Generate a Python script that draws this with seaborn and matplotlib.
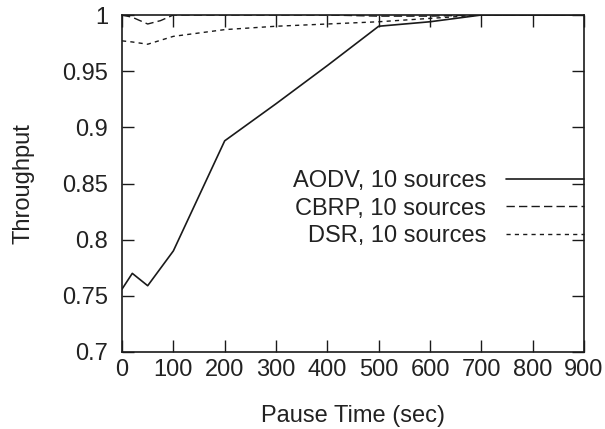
import matplotlib
matplotlib.use("Agg")
import matplotlib.pyplot as plt
import seaborn as sns
import pandas as pd

# Data
pause_aodv = [0, 20, 50, 100, 200, 300, 400, 500, 600, 700, 800, 900]
thr_aodv = [0.756, 0.770, 0.759, 0.790, 0.888, 0.921, 0.955, 0.990, 0.994, 1.0, 1.0, 1.0]

pause_cbrp = [0, 20, 50, 75, 100, 200, 300, 400, 500, 600, 700, 800, 900]
thr_cbrp = [1.0, 0.998, 0.992, 0.995, 1.0, 1.0, 1.0, 1.0, 0.999, 0.999, 1.0, 1.0, 1.0]

pause_dsr = [0, 20, 50, 100, 200, 300, 400, 500, 600, 700, 800, 900]
thr_dsr = [0.977, 0.976, 0.974, 0.981, 0.987, 0.990, 0.992, 0.994, 0.997, 1.0, 1.0, 1.0]

labels = ["AODV, 10 sources", "CBRP, 10 sources", "DSR, 10 sources"]
x_ticks = [0, 100, 200, 300, 400, 500, 600, 700, 800, 900]
y_ticks = [0.7, 0.75, 0.8, 0.85, 0.9, 0.95, 1.0]
y_tick_labels = ["0.7", "0.75", "0.8", "0.85", "0.9", "0.95", "1"]

sns.set_style("ticks")
plt.rcParams["font.family"] = ["Liberation Sans", "DejaVu Sans"]

fig = plt.figure(figsize=(6.05, 4.29), dpi=100)
ax = fig.add_axes([0.2017, 0.1795, 0.9653 - 0.2017, 0.965 - 0.1795])

ink = "#1a1a1a"
df_a = pd.DataFrame({"x": pause_aodv, "y": thr_aodv})
df_c = pd.DataFrame({"x": pause_cbrp, "y": thr_cbrp})
df_d = pd.DataFrame({"x": pause_dsr, "y": thr_dsr})

sns.lineplot(data=df_a, x="x", y="y", ax=ax, color=ink, lw=1.2, label=labels[0])
sns.lineplot(data=df_c, x="x", y="y", ax=ax, color=ink, lw=1.0, label=labels[1])
ax.lines[-1].set_dashes((6, 3))
sns.lineplot(data=df_d, x="x", y="y", ax=ax, color=ink, lw=1.0, label=labels[2])
ax.lines[-1].set_dashes((3, 3))

ax.set_xlim(0, 900)
ax.set_ylim(0.7, 1.0)
ax.set_xticks(x_ticks)
ax.set_yticks(y_ticks)
ax.set_yticklabels(y_tick_labels)

for s in ax.spines.values():
    s.set_visible(True)
    s.set_color(ink)
    s.set_linewidth(1.2)

ax.tick_params(axis="both", direction="in", length=8.5, width=1.0, color=ink,
               top=True, right=True, labelsize=17, labelcolor="#222222")
ax.tick_params(axis="y", pad=10)
ax.tick_params(axis="x", pad=5)

ax.set_xlabel("Pause Time (sec)", fontsize=17, color="#222222", labelpad=17)
ax.set_ylabel("Throughput", fontsize=17, color="#222222", labelpad=20)

leg = ax.legend(loc="upper right", bbox_to_anchor=(1.0, 0.54), frameon=False,
                markerfirst=False, fontsize=17, borderpad=0, borderaxespad=0,
                handlelength=3.3, handletextpad=0.85, labelspacing=0.24)
for t in leg.get_texts():
    t.set_color("#222222")

fig.savefig("out.png", dpi=100, facecolor="white")
